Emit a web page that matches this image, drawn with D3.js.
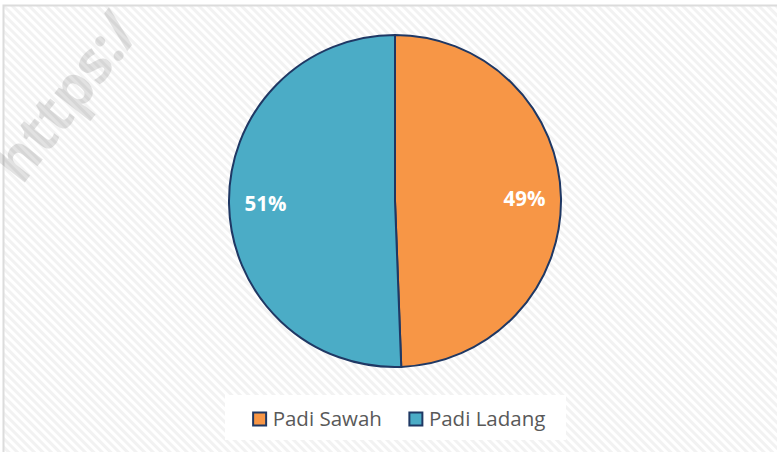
<!DOCTYPE html>
<html>
<head>
<meta charset="utf-8">
<script src="https://cdn.jsdelivr.net/npm/d3@7"></script>
<style>
  body { margin: 0; background: #fff; }
  svg { display: block; }
</style>
</head>
<body>
<svg id="chart" width="777" height="452"></svg>
<script>
const categories = ["Padi Sawah", "Padi Ladang"];
const values = [49.4, 50.6];
const colors = ["#F79646", "#4BACC6"];

const W = 777, H = 452;
const cx = 395, cy = 201, radius = 166;

const svg = d3.select("#chart");

// hatched background
const defs = svg.append("defs");
const pat = defs.append("pattern")
  .attr("id", "hatch")
  .attr("patternUnits", "userSpaceOnUse")
  .attr("width", 6).attr("height", 6)
  .attr("patternTransform", "rotate(45)");
pat.append("rect").attr("width", 6).attr("height", 6).attr("fill", "#ffffff");
pat.append("rect").attr("width", 6).attr("height", 3).attr("fill", "#f2f2f2");

svg.append("rect")
  .attr("width", W).attr("height", H)
  .attr("fill", "#fff");
svg.append("rect")
  .attr("x", 3.5).attr("y", 5.5)
  .attr("width", W + 10).attr("height", H + 10)
  .attr("fill", "url(#hatch)")
  .attr("stroke", "#dcdcdc")
  .attr("stroke-width", 2);

// faint watermark
svg.append("text")
  .attr("transform", "translate(22,186) rotate(-52)")
  .attr("font-family", "Open Sans, sans-serif")
  .attr("font-weight", "bold")
  .attr("font-size", 58)
  .attr("fill", "#000")
  .attr("opacity", 0.11)
  .text("https:/");

// pie
const pie = d3.pie().sort(null).value(d => d);
const arcs = pie(values);
const arc = d3.arc().innerRadius(0).outerRadius(radius);
const labelArc = d3.arc().innerRadius(radius * 0.78).outerRadius(radius * 0.78);
const total = d3.sum(values);

const g = svg.append("g").attr("transform", `translate(${cx},${cy})`);
g.selectAll("path.slice")
  .data(arcs)
  .join("path")
  .attr("class", "slice")
  .attr("d", arc)
  .attr("fill", (d, i) => colors[i])
  .attr("stroke", "#1F3864")
  .attr("stroke-width", 2)
  .attr("stroke-linejoin", "round");

g.selectAll("text.lbl")
  .data(arcs)
  .join("text")
  .attr("class", "lbl")
  .attr("transform", d => `translate(${labelArc.centroid(d)})`)
  .attr("text-anchor", "middle")
  .attr("dy", "0.36em")
  .attr("font-family", "Open Sans, sans-serif")
  .attr("font-weight", "bold")
  .attr("font-size", 20.5)
  .attr("fill", "#fff")
  .text(d => Math.round(d.data / total * 100) + "%");

// legend
svg.append("rect")
  .attr("x", 225).attr("y", 395)
  .attr("width", 341).attr("height", 45)
  .attr("fill", "#fff");

const legend = svg.append("g");
const items = legend.selectAll("g")
  .data(categories)
  .join("g");
items.append("rect")
  .attr("x", 0.5).attr("y", -6.5)
  .attr("width", 13).attr("height", 13)
  .attr("fill", (d, i) => colors[i])
  .attr("stroke", "#1F3864")
  .attr("stroke-width", 2);
items.append("text")
  .attr("x", 20)
  .attr("dy", "0.36em")
  .attr("font-family", "Open Sans, sans-serif")
  .attr("font-size", 20.5)
  .attr("fill", "#595959")
  .text(d => d);

let xoff = 0;
const offsets = [];
items.each(function () {
  offsets.push(xoff);
  const tw = d3.select(this).select("text").node().getComputedTextLength();
  xoff += 20 + tw + 27;
});
const legW = xoff - 27;
const legX = 399 - legW / 2;
items.attr("transform", (d, i) => `translate(${legX + offsets[i]},419)`);
</script>
</body>
</html>
